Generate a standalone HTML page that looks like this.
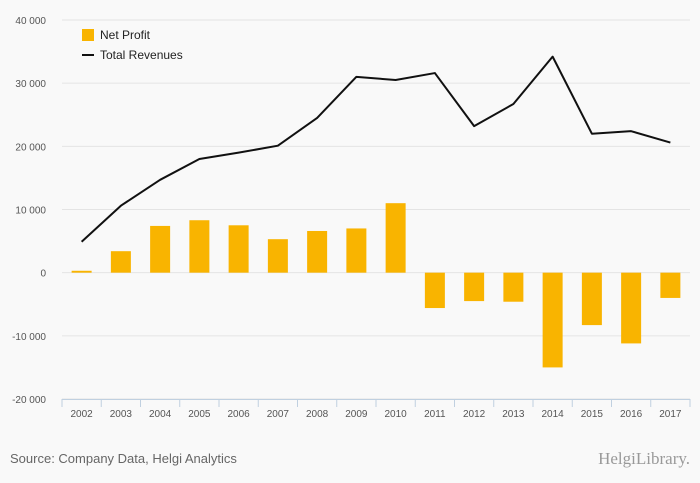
<!DOCTYPE html>
<html><head><meta charset="utf-8"><style>
body{margin:0;background:#f9f9f9;font-family:"Liberation Sans",sans-serif;}
#wrap{position:relative;width:700px;height:483px;overflow:hidden;background:#f9f9f9}
</style></head><body>
<div id="wrap">
<svg id="chart" width="700" height="483"></svg>
</div>
<script>
const years=["2002","2003","2004","2005","2006","2007","2008","2009","2010","2011","2012","2013","2014","2015","2016","2017"];
const netProfit=[300,3400,7400,8300,7500,5300,6600,7000,11000,-5600,-4500,-4600,-15000,-8300,-11200,-4000];
const totalRevenues=[4900,10600,14700,18000,19000,20100,24500,31000,30500,31600,23200,26700,34200,22000,22400,20600];
const yTicks=[40000,30000,20000,10000,0,-10000,-20000];
const yTickLabels=["40 000","30 000","20 000","10 000","0","-10 000","-20 000"];

const NS="http://www.w3.org/2000/svg";
const svg=document.getElementById('chart');
const x0=62,x1=690,yTop=20,yBot=399,vMax=40000,vMin=-20000;
const bw=(x1-x0)/years.length;
function y(v){return yTop+(vMax-v)/(vMax-vMin)*(yBot-yTop);}
function xc(i){return x0+bw*(i+0.5);}
function mk(t,a,txt){const e=document.createElementNS(NS,t);for(const k in a)e.setAttribute(k,a[k]);if(txt!==undefined)e.textContent=txt;svg.appendChild(e);return e;}

yTicks.forEach((v,i)=>{
  const g=mk('line',{x1:x0,x2:x1,y1:y(v),y2:y(v),stroke:'#e4e4e4','stroke-width':1});
  
  
  const t=mk('text',{x:46,y:y(v)+4,'text-anchor':'end','font-size':10,fill:'#555'},yTickLabels[i]);
  
  
});
const ax=mk('line',{x1:x0,x2:x1,y1:yBot+0.5,y2:yBot+0.5,stroke:'#c0d0e0','stroke-width':1});


for(let i=0;i<=years.length;i++){
  const tk=mk('line',{x1:x0+bw*i,x2:x0+bw*i,y1:yBot,y2:yBot+8,stroke:'#c0d0e0','stroke-width':1});
  
  
}
years.forEach((yr,i)=>{
  const t=mk('text',{x:xc(i),y:yBot+18,'text-anchor':'middle','font-size':10,fill:'#555'},yr);
  
  
});
netProfit.forEach((v,i)=>{
  const top=Math.min(y(v),y(0)),h=Math.abs(y(v)-y(0));
  const r=mk('rect',{x:xc(i)-10,y:top,width:20,height:Math.max(h,0.5),fill:'#f9b400'});
  
  
});
const pts=totalRevenues.map((v,i)=>xc(i)+','+y(v)).join(' ');
const pl=mk('polyline',{points:pts,fill:'none',stroke:'#111','stroke-width':2,'stroke-linejoin':'round'});



const l1=mk('rect',{x:82,y:29,width:12,height:12,fill:'#f9b400'});


const lt1=mk('text',{x:100,y:39,'font-size':12,fill:'#222'},'Net Profit');


const l2=mk('line',{x1:82,x2:94,y1:55,y2:55,stroke:'#111','stroke-width':2});


const lt2=mk('text',{x:100,y:59,'font-size':12,fill:'#222'},'Total Revenues');



const src=mk('text',{x:10,y:463,'font-size':13,fill:'#666'},'Source: Company Data, Helgi Analytics');


const logo=mk('text',{x:690,y:464,'text-anchor':'end','font-size':17,fill:'#999','font-family':'Liberation Serif, serif'},'HelgiLibrary.');


</script>
</body></html>
